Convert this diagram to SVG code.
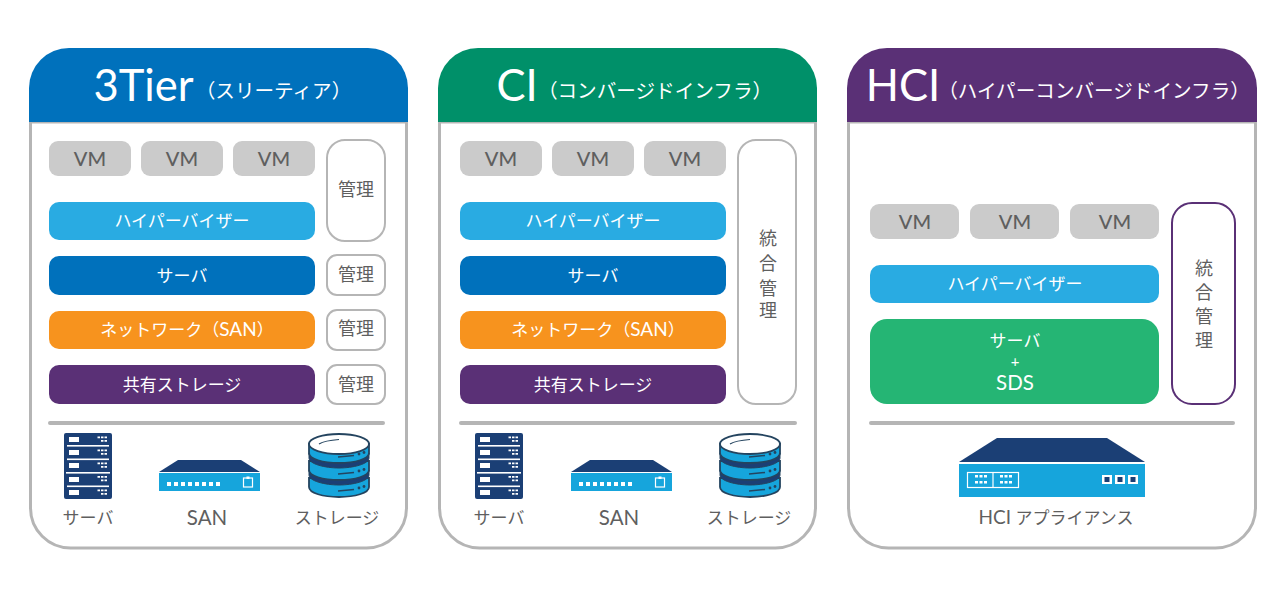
<svg xmlns="http://www.w3.org/2000/svg" width="1280" height="600" viewBox="0 0 1280 600">
<style>
text{font-family:"Lato","Noto Sans CJK JP",sans-serif;text-anchor:middle}
.panel{fill:#fff;stroke:#b5b5b5;stroke-width:3}
.vm{fill:#cbcbcb}
.vmt{font-size:20px;fill:#5f5f5f;font-weight:500}
.w{font-size:17px;fill:#fff}
.m{fill:#fff;stroke:#b5b5b5;stroke-width:2}
.g{font-size:18px;fill:#5f5f5f}
.lab{font-size:17px;fill:#5f5f5f}
.lat{font-size:20.500px}
.big{font-size:43.500px;fill:#fff}
.sub{font-size:19.600px;fill:#fff}
.rule{stroke:#b5b5b5;stroke-width:4;stroke-linecap:round}
.hy{fill:#29abe2}.sv{fill:#0071bc}.nw{fill:#f7931e}.st{fill:#5a3076}
</style>
<defs>
<g id="srv">
<rect x="0" y="0" width="48" height="66" rx="2" fill="#1b3f75"/>
<g fill="#fff">
<rect x="3" y="12" width="42" height="1.600"/><rect x="3" y="25.500" width="42" height="1.600"/><rect x="2" y="39" width="44" height="1.600"/><rect x="3" y="52.500" width="42" height="1.600"/>
<rect x="5" y="4" width="10" height="5"/><rect x="5" y="17" width="10" height="5"/><rect x="5" y="30" width="10" height="5"/><rect x="5" y="44" width="10" height="5"/><rect x="5" y="57" width="10" height="5"/>
<path d="M33.500 3.500h2.500v1.800h-2.500zM37 3.500h2.500v1.800h-2.500zM40.500 3.500h2.500v1.800h-2.500zM37 7h2.500v1.800h-2.500zM40.500 7h2.500v1.800h-2.500zM33.500 16.500h2.500v1.800h-2.500zM37 16.500h2.500v1.800h-2.500zM40.500 16.500h2.500v1.800h-2.500zM37 20h2.500v1.800h-2.500zM40.500 20h2.500v1.800h-2.500zM33.500 29.500h2.500v1.800h-2.500zM37 29.500h2.500v1.800h-2.500zM40.500 29.500h2.500v1.800h-2.500zM37 33h2.500v1.800h-2.500zM40.500 33h2.500v1.800h-2.500zM33.500 43h2.500v1.800h-2.500zM37 43h2.500v1.800h-2.500zM40.500 43h2.500v1.800h-2.500zM37 46.500h2.500v1.800h-2.500zM40.500 46.500h2.500v1.800h-2.500zM33.500 56.500h2.500v1.800h-2.500zM37 56.500h2.500v1.800h-2.500zM40.500 56.500h2.500v1.800h-2.500zM37 60h2.500v1.800h-2.500zM40.500 60h2.500v1.800h-2.500z"/>
</g>
</g>
<g id="san">
<path d="M0 12L19 0H82L101 12Z" fill="#1b3f75"/>
<rect x="0" y="13" width="101" height="18" fill="#16a5dc"/>
<g fill="#fff"><rect x="8" y="22" width="4" height="4"/><rect x="15" y="22" width="4" height="4"/><rect x="22" y="22" width="4" height="4"/><rect x="29" y="22" width="4" height="4"/><rect x="36" y="22" width="4" height="4"/><rect x="43" y="22" width="4" height="4"/><rect x="50" y="22" width="4" height="4"/><rect x="57" y="22" width="4" height="4"/></g>
<rect x="84.500" y="18" width="9" height="9" fill="none" stroke="#fff" stroke-width="1.200"/>
<rect x="87.500" y="16.500" width="3" height="2.500" fill="#fff"/>
</g>
<g id="dbdisk">
<path d="M1 11V20C1 26 15 30 31 30S61 26 61 20V11Z" fill="#16a5dc" stroke="#24445f" stroke-width="1.800"/>
<path d="M30 24L46 22.500" stroke="#24445f" stroke-width="1.500" fill="none"/>
<circle cx="51" cy="21" r="1.400" fill="#24445f"/><circle cx="56" cy="19.500" r="1.400" fill="#24445f"/>
</g>
<path id="band" d="M1 20C1 26 15 30 31 30S61 26 61 20V25C61 31 45 35 31 35S1 31 1 25Z" fill="#1b3f75" stroke="#24445f" stroke-width="1"/>
<g id="db">
<use href="#dbdisk" x="0" y="34"/>
<use href="#band" x="0" y="17"/>
<use href="#dbdisk" x="0" y="17"/>
<use href="#band" x="0" y="0"/>
<use href="#dbdisk" x="0" y="0"/>
<ellipse cx="31" cy="11" rx="30" ry="10" fill="#fff" stroke="#24445f" stroke-width="1.800"/>
<path d="M11 11C16 8 24 7 31 6.500" fill="none" stroke="#24445f" stroke-width="1.200"/>
</g>
<g id="apl">
<path d="M0 24L38 0H148L186 24Z" fill="#1b3f75"/>
<rect x="0" y="26" width="186" height="33" fill="#16a5dc"/>
<g fill="none" stroke="#fff" stroke-width="1.200"><rect x="8.500" y="34.500" width="51" height="15"/><line x1="34" y1="34.500" x2="34" y2="49.500"/></g>
<g fill="#fff"><rect x="16" y="37" width="3" height="2.500"/><rect x="20.500" y="37" width="3" height="2.500"/><rect x="25" y="37" width="3" height="2.500"/><rect x="16" y="43" width="3" height="2.500"/><rect x="20.500" y="43" width="3" height="2.500"/><rect x="25" y="43" width="3" height="2.500"/><rect x="41" y="37" width="3" height="2.500"/><rect x="45.500" y="37" width="3" height="2.500"/><rect x="50" y="37" width="3" height="2.500"/><rect x="41" y="43" width="3" height="2.500"/><rect x="45.500" y="43" width="3" height="2.500"/><rect x="50" y="43" width="3" height="2.500"/>
<rect x="143" y="37" width="10" height="9"/><rect x="156" y="37" width="10" height="9"/><rect x="169" y="37" width="10" height="9"/></g>
<g fill="#1b3f75"><rect x="145.500" y="39" width="5" height="5"/><rect x="158.500" y="39" width="5" height="5"/><rect x="171.500" y="39" width="5" height="5"/></g>
</g>
</defs>
<rect width="1280" height="600" fill="#fff"/>

<g id="panel-3tier">
<path class="panel" d="M30.500 122H406.500V508A40 40 0 0 1 366.500 548H70.500A40 40 0 0 1 30.500 508Z"/>
<path d="M29 122V88A40 40 0 0 1 69 48H368A40 40 0 0 1 408 88V122Z" fill="#0071bc"/>
<text x="143.500" y="101" class="big">3Tier</text>
<text x="273.500" y="98" class="sub">（スリーティア）</text>
</g>
<g id="t-vm1"><rect class="vm" x="49" y="141" width="82" height="35" rx="9"/><text class="vmt" x="90" y="166">VM</text></g>
<g id="t-vm2"><rect class="vm" x="141" y="141" width="82" height="35" rx="9"/><text class="vmt" x="182" y="166">VM</text></g>
<g id="t-vm3"><rect class="vm" x="233" y="141" width="82" height="35" rx="9"/><text class="vmt" x="274" y="166">VM</text></g>
<g id="t-hyp"><rect class="hy" x="49" y="202" width="266" height="38" rx="10"/><text class="w" x="182" y="227">ハイパーバイザー</text></g>
<g id="t-srv"><rect class="sv" x="49" y="256" width="266" height="39" rx="10"/><text class="w" x="182" y="282">サーバ</text></g>
<g id="t-net"><rect class="nw" x="49" y="311" width="266" height="38" rx="10"/><text class="w" x="187" y="336">ネットワーク（<tspan font-size="19">SAN</tspan>）</text></g>
<g id="t-sto"><rect class="st" x="49" y="365" width="266" height="39" rx="10"/><text class="w" x="182" y="391">共有ストレージ</text></g>
<g id="t-m1"><rect class="m" x="327" y="140" width="58" height="101" rx="18"/><text class="g" x="356" y="196">管理</text></g>
<g id="t-m2"><rect class="m" x="327" y="255" width="58" height="40" rx="10"/><text class="g" x="356" y="281">管理</text></g>
<g id="t-m3"><rect class="m" x="327" y="310" width="58" height="40" rx="10"/><text class="g" x="356" y="335">管理</text></g>
<g id="t-m4"><rect class="m" x="327" y="365" width="58" height="39" rx="10"/><text class="g" x="356" y="391">管理</text></g>
<line class="rule" x1="50" y1="423" x2="383" y2="423"/>
<g id="t-i1"><use href="#srv" x="64" y="433"/><text class="lab" x="88" y="524">サーバ</text></g>
<g id="t-i2"><use href="#san" x="159" y="460"/><text class="lab lat" x="207" y="525">SAN</text></g>
<g id="t-i3"><use href="#db" x="308" y="433"/><text class="lab" x="337" y="524">ストレージ</text></g>

<g id="panel-ci">
<path class="panel" d="M439.500 122H815.500V508A40 40 0 0 1 775.500 548H479.500A40 40 0 0 1 439.500 508Z"/>
<path d="M438 122V88A40 40 0 0 1 478 48H777A40 40 0 0 1 817 88V122Z" fill="#009069"/>
<text x="517" y="101" class="big">CI</text>
<text x="655" y="98" class="sub">（コンバージドインフラ）</text>
</g>
<g id="c-vm1"><rect class="vm" x="460" y="141" width="82" height="35" rx="9"/><text class="vmt" x="501" y="166">VM</text></g>
<g id="c-vm2"><rect class="vm" x="552" y="141" width="82" height="35" rx="9"/><text class="vmt" x="593" y="166">VM</text></g>
<g id="c-vm3"><rect class="vm" x="644" y="141" width="82" height="35" rx="9"/><text class="vmt" x="685" y="166">VM</text></g>
<g id="c-hyp"><rect class="hy" x="460" y="202" width="266" height="38" rx="10"/><text class="w" x="593" y="227">ハイパーバイザー</text></g>
<g id="c-srv"><rect class="sv" x="460" y="256" width="266" height="39" rx="10"/><text class="w" x="593" y="282">サーバ</text></g>
<g id="c-net"><rect class="nw" x="460" y="311" width="266" height="38" rx="10"/><text class="w" x="598" y="336">ネットワーク（<tspan font-size="19">SAN</tspan>）</text></g>
<g id="c-sto"><rect class="st" x="460" y="365" width="266" height="39" rx="10"/><text class="w" x="593" y="391">共有ストレージ</text></g>
<g id="c-m"><rect class="m" x="738" y="140" width="58" height="264" rx="18"/><text class="g" x="768" y="245">統</text><text class="g" x="768" y="270">合</text><text class="g" x="768" y="295">管</text><text class="g" x="768" y="317">理</text></g>
<line class="rule" x1="461" y1="423" x2="795" y2="423"/>
<g id="c-i1"><use href="#srv" x="475" y="433"/><text class="lab" x="499" y="524">サーバ</text></g>
<g id="c-i2"><use href="#san" x="571" y="460"/><text class="lab lat" x="619" y="525">SAN</text></g>
<g id="c-i3"><use href="#db" x="719" y="433"/><text class="lab" x="749" y="524">ストレージ</text></g>

<g id="panel-hci">
<path class="panel" d="M848.500 122H1255.500V508A40 40 0 0 1 1215.500 548H888.500A40 40 0 0 1 848.500 508Z"/>
<path d="M847 122V88A40 40 0 0 1 887 48H1217A40 40 0 0 1 1257 88V122Z" fill="#5a3076"/>
<text x="903" y="101" class="big">HCI</text>
<text x="1094" y="98" class="sub">（ハイパーコンバージドインフラ）</text>
</g>
<g id="h-vm1"><rect class="vm" x="870" y="204" width="89" height="35" rx="9"/><text class="vmt" x="915" y="229">VM</text></g>
<g id="h-vm2"><rect class="vm" x="970" y="204" width="89" height="35" rx="9"/><text class="vmt" x="1015" y="229">VM</text></g>
<g id="h-vm3"><rect class="vm" x="1070" y="204" width="89" height="35" rx="9"/><text class="vmt" x="1115" y="229">VM</text></g>
<g id="h-hyp"><rect class="hy" x="870" y="265" width="289" height="38" rx="10"/><text class="w" x="1015" y="290">ハイパーバイザー</text></g>
<g id="h-srv"><rect fill="#25b574" x="870" y="319" width="289" height="85" rx="17"/><text class="w" x="1015" y="347">サーバ</text><text class="w" x="1015" y="366.500" style="font-size:15px">+</text><text class="w" x="1015" y="390" style="font-size:20.500px">SDS</text></g>
<g id="h-m"><rect fill="#fff" stroke="#5a3076" stroke-width="2" x="1172" y="203" width="63" height="201" rx="20"/><text class="g" x="1204" y="275">統</text><text class="g" x="1204" y="299">合</text><text class="g" x="1204" y="323">管</text><text class="g" x="1204" y="347">理</text></g>
<line class="rule" x1="871" y1="423" x2="1233" y2="423"/>
<g id="h-i"><use href="#apl" x="959" y="438"/><text class="lab" x="1056" y="524"><tspan font-size="19">HCI</tspan> アプライアンス</text></g>
</svg>
